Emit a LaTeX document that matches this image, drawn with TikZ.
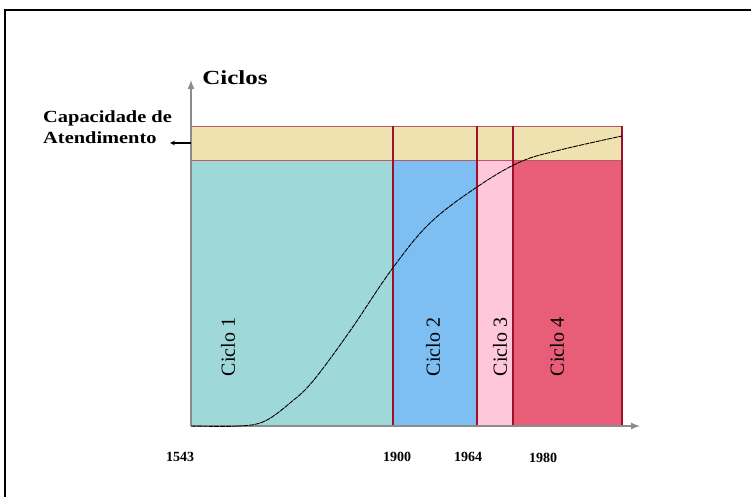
\documentclass[tikz,border=0pt]{standalone}
\usepackage{fontspec}
\setmainfont{Liberation Serif}
\usetikzlibrary{arrows, calc}

\definecolor{faixa}{HTML}{EFE1B0}
\definecolor{ciclo1}{HTML}{9FD8D8}
\definecolor{ciclo2}{HTML}{7DBFF2}
\definecolor{ciclo3}{HTML}{FFC8DA}
\definecolor{ciclo4}{HTML}{E85D77}
\definecolor{divisa}{HTML}{A0102A}
\definecolor{eixo}{HTML}{8C8C8C}

\begin{document}
\begin{tikzpicture}[x=1pt, y=-1pt,
    eixos/.style={draw=eixo, line width=2pt, -latex},
    divisao/.style={draw=divisa, line width=1.4pt},
    rotulo/.style={font=\fontsize{20}{22}\selectfont, rotate=90, inner sep=0pt},
    ano/.style={font=\fontsize{14}{16}\selectfont\bfseries, inner sep=0pt}]
  \useasboundingbox (0,0) rectangle (751,497);
  % moldura
  \draw[line width=2pt] (5,520) -- (5,10) -- (770,10);
  % faixa e ciclos
  \fill[faixa] (191,126) rectangle (622,160);
  \fill[ciclo1] (191,160) rectangle (393,426);
  \fill[ciclo2] (393,160) rectangle (477,426);
  \fill[ciclo3] (477,160) rectangle (513,426);
  \fill[ciclo4] (513,160) rectangle (622,426);
  \draw[draw=divisa!70, line width=0.8pt] (191,126) -- (622,126) (191,160) -- (622,160);
  \foreach \x in {393,477,513,622}
    \draw[divisao] (\x,126) -- (\x,426);
  % eixos
  \coordinate (O) at (191,426);
  \coordinate (Y) at (191,80);
  \coordinate (X) at (640,426);
  \coordinate (cap) at (191,143);
  \draw[eixos] (O) -- (Y);
  \draw[eixos] (O) -- (X);
  % curva
  \draw[line width=0.9pt, dash pattern=on 5pt off 0.8pt] plot[smooth, tension=0.6] coordinates {
    (191,426) (240,426) (265,421) (290,403) (313,381)
    (350,331) (392,269) (430,223) (477,187)
    (520,162) (560,150) (622,136)};
  % textos
  \node[font=\fontsize{20}{22}\selectfont\bfseries, xscale=1.25, anchor=west, inner sep=0pt] (ciclos) at (202,78) {Ciclos};
  \node[font=\fontsize{17}{21}\selectfont\bfseries, xscale=1.2, anchor=west, inner sep=0pt,
        align=left] (capacidade) at (43,127) {Capacidade de\\Atendimento};
  \draw[-stealth, line width=1.2pt] (cap) -- (170,143);
  \node[rotulo] (c1) at (228,347) {Ciclo 1};
  \node[rotulo] (c2) at (433,347) {Ciclo 2};
  \node[rotulo] (c3) at (500,347) {Ciclo 3};
  \node[rotulo] (c4) at (557,347) {Ciclo 4};
  \node[ano] (a1543) at (180,457) {1543};
  \node[ano] (a1900) at (397,457) {1900};
  \node[ano] (a1964) at (468,457) {1964};
  \node[ano] (a1980) at (543,458) {1980};
\end{tikzpicture}
\end{document}
